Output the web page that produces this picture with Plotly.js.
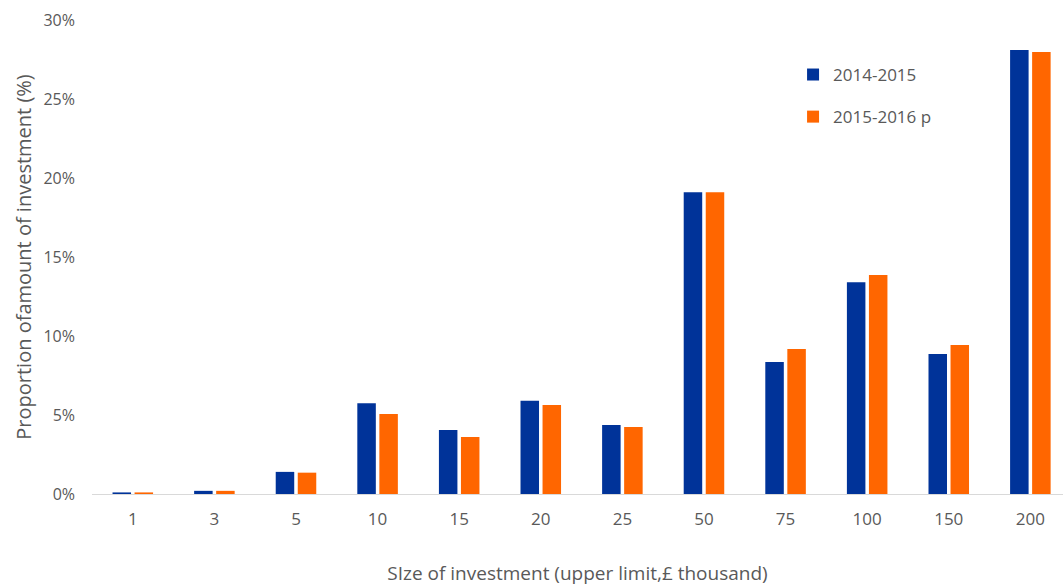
<!DOCTYPE html>
<html>
<head>
<meta charset="utf-8">
<script src="https://cdn.plot.ly/plotly-3.0.1.min.js"></script>
<style>html,body{margin:0;padding:0;background:#fff;}#chart{width:1063px;height:586px;}</style>
</head>
<body>
<div id="chart"></div>
<script>
const categories = ['1','3','5','10','15','20','25','50','75','100','150','200'];
const series2014 = [0.1, 0.2, 1.4, 5.75, 4.05, 5.9, 4.37, 19.1, 8.35, 13.4, 8.86, 28.1];
const series2015 = [0.1, 0.2, 1.35, 5.06, 3.6, 5.63, 4.24, 19.1, 9.18, 13.86, 9.43, 27.97];
const seriesNames = ['2014-2015', '2015-2016 p'];
const yTicks = [0, 5, 10, 15, 20, 25, 30];

const fam = 'Open Sans, Liberation Sans, sans-serif';
const grey = '#595959';

const traces = [
  {type: 'bar', name: seriesNames[0], x: categories, y: series2014, marker: {color: '#003399'}, legendgroup: 'a'},
  {type: 'bar', name: seriesNames[1], x: categories, y: series2015, marker: {color: '#FF6600'}, legendgroup: 'b'}
];

const layout = {
  width: 1063, height: 586,
  margin: {l: 92, r: 0, t: 20, b: 92},
  paper_bgcolor: '#fff', plot_bgcolor: '#fff',
  font: {family: fam, color: grey, size: 16},
  barmode: 'group', bargap: 0.46, bargroupgap: 0.16,
  showlegend: true,
  legend: {x: 0.722, y: 0.922, xanchor: 'left', yanchor: 'top', bgcolor: 'rgba(0,0,0,0)',
           traceorder: 'grouped', tracegroupgap: 17, font: {family: fam, color: grey, size: 17}},
  xaxis: {
    type: 'category', range: [-0.5, 11.4], showgrid: false, zeroline: false, showline: true,
    linecolor: '#d9d9d9', linewidth: 1,
    ticks: '', ticklabelstandoff: 10, tickfont: {size: 17, color: grey},
    title: {text: 'SIze of investment (upper limit,£ thousand)', font: {size: 19, color: grey}, standoff: 38}
  },
  yaxis: {
    range: [0, 30], tickvals: yTicks, ticktext: yTicks.map(v => v + '%'), showgrid: false, zeroline: false,
    showline: false, ticks: '', ticklabelstandoff: 16, tickfont: {size: 16, color: grey},
    title: {text: 'Proportion ofamount of investment (%)', font: {size: 20, color: grey}, standoff: 6}
  }
};

Plotly.newPlot('chart', traces, layout, {displayModeBar: false, staticPlot: true});
</script>
</body>
</html>
